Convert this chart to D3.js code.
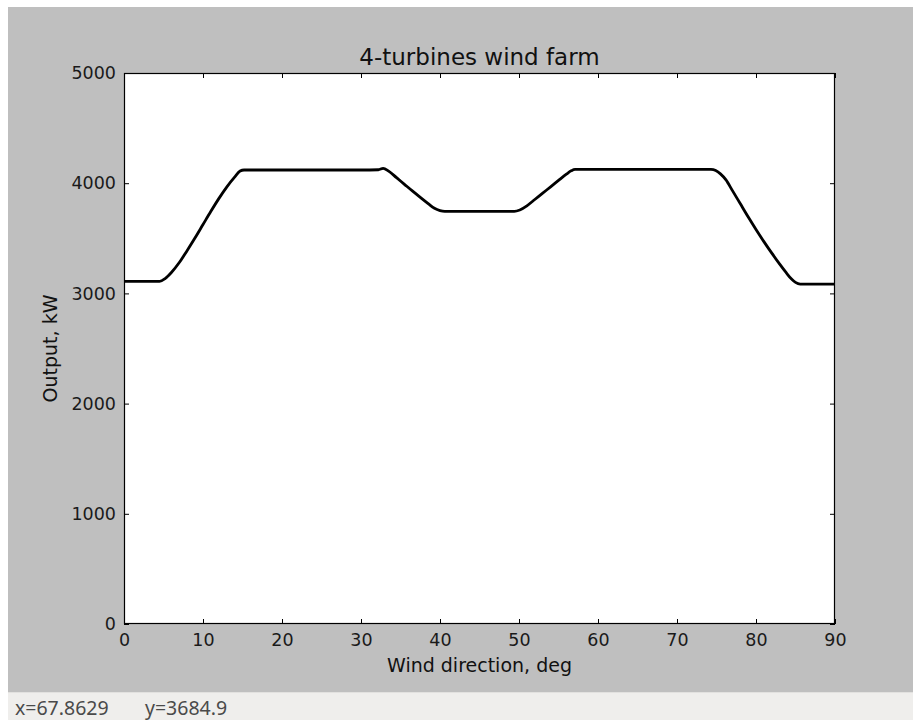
<!DOCTYPE html>
<html>
<head>
<meta charset="utf-8">
<script src="https://cdn.jsdelivr.net/npm/d3@7"></script>
<style>
  html, body { margin: 0; padding: 0; background: #ffffff; }
  svg { display: block; }
</style>
</head>
<body>
<svg id="chart" width="913" height="720"></svg>
<script>
// ---- data ----
const directionDeg = [0, 4.5, 5.2, 6, 7, 8, 9, 10, 11, 12, 13, 14, 14.7, 15.2,
  20, 25, 30, 32.2, 32.8, 33.5, 34.5, 35.5, 36.5, 37.5, 38.5, 39.3, 40, 40.6, 45, 49.4, 50.1, 51, 52, 53,
  54, 55, 56, 56.6, 57.1, 60, 65, 70, 74.3, 74.9, 75.5, 76.2, 77, 78, 79, 80, 81, 82, 83, 83.8,
  84.5, 85, 85.6, 88, 90];
const outputKW = [3110, 3110, 3135, 3190, 3280, 3390, 3505, 3625, 3745, 3860, 3965, 4055, 4110, 4120,
  4120, 4120, 4120, 4122, 4135, 4110, 4050, 3990, 3930, 3872, 3815, 3772, 3752, 3745, 3745, 3745, 3757, 3795, 3852, 3910,
  3967, 4025, 4082, 4112, 4125, 4125, 4125, 4125, 4125, 4115, 4085, 4030, 3935, 3815, 3695, 3580, 3470, 3365, 3265, 3190,
  3130, 3100, 3085, 3085, 3085];
const xTicks = [0, 10, 20, 30, 40, 50, 60, 70, 80, 90];
const yTicks = [0, 1000, 2000, 3000, 4000, 5000];
const titleText = "4-turbines wind farm";
const xLabelText = "Wind direction, deg";
const yLabelText = "Output, kW";
const statusX = "x=67.8629";
const statusY = "y=3684.9";

// ---- layout ----
const svg = d3.select("#chart");
const plot = { left: 124, right: 835, top: 73, bottom: 624 };
const font = "'DejaVu Sans', sans-serif";

// figure background
svg.append("rect").attr("x", 8).attr("y", 7).attr("width", 905).attr("height", 685).attr("fill", "#bfbfbf");
// status bar
svg.append("rect").attr("x", 8).attr("y", 692).attr("width", 905).attr("height", 28).attr("fill", "#efeeec");
svg.append("line").attr("x1", 8).attr("x2", 913).attr("y1", 692.5).attr("y2", 692.5).attr("stroke", "#e2e1df");

const x = d3.scaleLinear().domain([0, 90]).range([plot.left, plot.right]);
const y = d3.scaleLinear().domain([0, 5000]).range([plot.bottom, plot.top]);

// axes area
svg.append("rect").attr("x", plot.left).attr("y", plot.top)
  .attr("width", plot.right - plot.left).attr("height", plot.bottom - plot.top).attr("fill", "#ffffff");

// data line
const pts = directionDeg.map((d, i) => [d, outputKW[i]]);
const line = d3.line().x(d => x(d[0])).y(d => y(d[1])).curve(d3.curveMonotoneX);
svg.append("clipPath").attr("id", "clip").append("rect")
  .attr("x", plot.left).attr("y", plot.top).attr("width", plot.right - plot.left).attr("height", plot.bottom - plot.top);
svg.append("path").datum(pts).attr("d", line).attr("fill", "none")
  .attr("stroke", "#000").attr("stroke-width", 2.8).attr("stroke-linejoin", "round").attr("clip-path", "url(#clip)");

// axes with inward ticks
function styleAxis(g, showText) {
  g.select(".domain").remove();
  g.selectAll(".tick line").attr("stroke", "#000").attr("stroke-width", 1);
  g.selectAll(".tick text").attr("font-family", font).attr("font-size", 17.5).attr("fill", "#1a1a1a");
  if (!showText) g.selectAll(".tick text").remove();
}
const bottomAxis = d3.axisBottom(x).tickValues(xTicks).tickFormat(d3.format("d")).tickSizeInner(-5).tickSizeOuter(0).tickPadding(10);
svg.append("g").attr("transform", `translate(0,${plot.bottom})`).call(bottomAxis).call(g => styleAxis(g, true));
const topAxis = d3.axisTop(x).tickValues(xTicks).tickSizeInner(-5).tickSizeOuter(0);
svg.append("g").attr("transform", `translate(0,${plot.top})`).call(topAxis).call(g => styleAxis(g, false));
const leftAxis = d3.axisLeft(y).tickValues(yTicks).tickFormat(d3.format("d")).tickSizeInner(-5).tickSizeOuter(0).tickPadding(8);
svg.append("g").attr("transform", `translate(${plot.left},0)`).call(leftAxis).call(g => styleAxis(g, true));
const rightAxis = d3.axisRight(y).tickValues(yTicks).tickSizeInner(-5).tickSizeOuter(0);
svg.append("g").attr("transform", `translate(${plot.right},0)`).call(rightAxis).call(g => styleAxis(g, false));

// frame
svg.append("rect").attr("x", plot.left + 0.5).attr("y", plot.top + 0.5)
  .attr("width", plot.right - plot.left - 1).attr("height", plot.bottom - plot.top - 1)
  .attr("fill", "none").attr("stroke", "#000").attr("stroke-width", 1.2);

// title and labels
svg.append("text").attr("x", (plot.left + plot.right) / 2).attr("y", 65)
  .attr("text-anchor", "middle").attr("font-family", font).attr("font-size", 23).attr("fill", "#111")
  .text(titleText);
svg.append("text").attr("x", (plot.left + plot.right) / 2).attr("y", 672)
  .attr("text-anchor", "middle").attr("font-family", font).attr("font-size", 19).attr("fill", "#111")
  .text(xLabelText);
svg.append("text").attr("transform", `translate(57,${(plot.top + plot.bottom) / 2}) rotate(-90)`)
  .attr("text-anchor", "middle").attr("font-family", font).attr("font-size", 19).attr("fill", "#111")
  .text(yLabelText);

// status bar texts
svg.append("text").attr("x", 15).attr("y", 715).attr("font-family", "'Noto Sans', sans-serif")
  .attr("font-size", 19.5).attr("fill", "#4a4a4a").text(statusX);
svg.append("text").attr("x", 145).attr("y", 715).attr("font-family", "'Noto Sans', sans-serif")
  .attr("font-size", 19.5).attr("fill", "#4a4a4a").text(statusY);
</script>
</body>
</html>
